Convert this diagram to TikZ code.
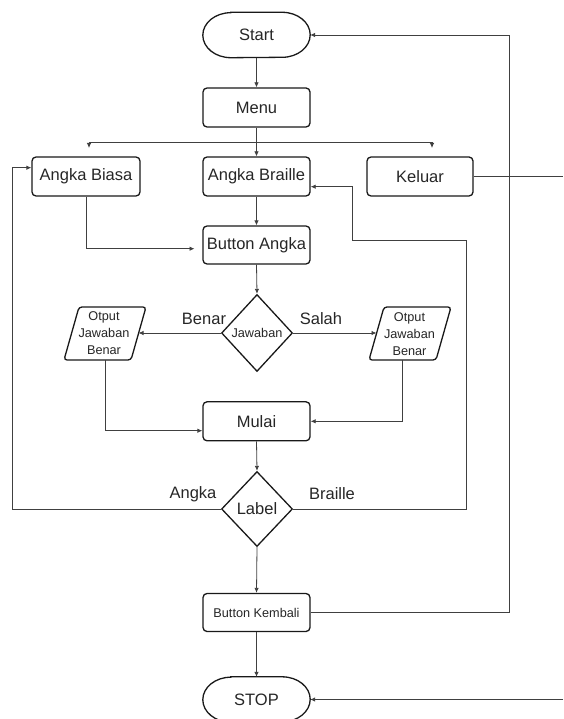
\documentclass[tikz,border=0pt]{standalone}
\usepackage{fontspec}
\setmainfont{Liberation Sans}
\usetikzlibrary{arrows.meta,calc,shapes.geometric}
\begin{document}
\begin{tikzpicture}[x=1pt,y=-1pt,
  border/.style={draw=black!90,line width=1.3pt},
  bigtxt/.style={font=\fontsize{16.5}{19}\selectfont,text=black!85},
  smalltxt/.style={font=\fontsize{12.7}{16.7}\selectfont,text=black!85},
  procbox/.style={border,rounded corners=4pt,minimum width=107pt,minimum height=39pt,inner sep=0pt,bigtxt},
  termbox/.style={minimum width=107pt,minimum height=45pt,inner sep=0pt,bigtxt},
  decbox/.style={border,diamond,shape aspect=0.92,inner sep=0pt,minimum width=71pt},
  conn/.style={draw=black!75,line width=0.8pt,-{Latex[length=5pt,width=4.5pt]}},
  plain/.style={draw=black!75,line width=0.8pt}
]
\useasboundingbox (0,0) rectangle (563,719);

% nodes
\node[termbox] (start) at (256.5,35) {Start};
\draw[border] ($(start.north west)+(28,0)$) -- ($(start.north east)+(-28,0)$)
  arc[start angle=90,end angle=-90,x radius=28pt,y radius=22.5pt]
  -- ($(start.south west)+(28,0)$)
  arc[start angle=270,end angle=90,x radius=28pt,y radius=22.5pt] -- cycle;

\node[procbox] (menu) at (256.5,107.5) {Menu};
\node[procbox,minimum width=108pt] (biasa) at (86,176.5) {Angka Biasa};
\node[procbox] (braille) at (256.5,176.5) {Angka Braille};
\node[procbox,minimum width=106pt] (keluar) at (420,176.5) {Keluar};
\node[procbox,minimum height=38pt] (bangka) at (256.5,245) {Button Angka};
\node[decbox,minimum height=77pt,smalltxt] (jaw) at (257,333) {Jawaban};

\node[smalltxt,align=center] (outL) at (104,333) {Otput\\Jawaban\\Benar};
\draw[border,rounded corners=3pt] (79,307) -- (146,307) -- (131,360) -- (64,360) -- cycle;
\node[smalltxt,align=center] (outR) at (409.5,334) {Otput\\Jawaban\\Benar};
\draw[border,rounded corners=3pt] (384,307) -- (451,307) -- (436,360) -- (369,360) -- cycle;

\node[procbox] (mulai) at (256.5,421.3) {Mulai};
\node[decbox,minimum height=75pt,bigtxt] (label) at (257,509) {Label};
\node[procbox,minimum height=38pt,smalltxt] (kembali) at (256.5,612.5) {Button Kembali};

\node[termbox] (stop) at (256.5,699.5) {STOP};
\draw[border] ($(stop.north west)+(28,0)$) -- ($(stop.north east)+(-28,0)$)
  arc[start angle=90,end angle=-90,x radius=28pt,y radius=22.5pt]
  -- ($(stop.south west)+(28,0)$)
  arc[start angle=270,end angle=90,x radius=28pt,y radius=22.5pt] -- cycle;

% labels
\node[bigtxt] (tbenar) at (204,319) {Benar};
\node[bigtxt] (tsalah) at (321,319) {Salah};
\node[bigtxt] (tangka) at (193,494) {Angka};
\node[bigtxt] (tbraille) at (332,494) {Braille};

% helper coordinates
\coordinate (split) at (256.5,142.3);
\coordinate (bl) at (89,148);
\coordinate (kr) at (432,148);
\coordinate (ba) at (194.5,248.7);
\coordinate (outLe) at (138.5,333);
\coordinate (outLb) at (105,360);
\coordinate (outRw) at (376.5,333);
\coordinate (outRb) at (402.7,360);
\coordinate (kx) at (563,176.5);
\coordinate (sx) at (563,699.5);

% connectors
\draw[conn] (start.south) -- (menu.north);
\draw[conn] (menu.south) -- (braille.north);
\draw[conn,{Latex[length=5pt,width=4.5pt]}-{Latex[length=5pt,width=4.5pt]}] (bl) |- (split) -| (kr);
\draw[conn] (biasa.south) |- (ba);
\draw[conn] (braille.south) -- (bangka.north);
\draw[conn] (bangka.south) -- (jaw.north);
\draw[conn] (jaw.west) -- (outLe);
\draw[conn] (jaw.east) -- (outRw);
\draw[conn] (outLb) |- ($(mulai.west)+(0,9.4)$);
\draw[conn] (outRb) |- (mulai.east);
\draw[conn] (mulai.south) -- (label.north);
\draw[conn] (label.west) -| (12.3,167.7) -- ($(biasa.west)+(0,-8.8)$);
\draw[conn] (label.east) -| (466.7,240.7) -| (352.3,186.7) -- ($(braille.east)+(0,10.2)$);
\draw[conn] (label.south) -- (kembali.north);
\draw[conn] (kembali.east) -| (509,35) -- (start.east);
\draw[conn] (kembali.south) -- (stop.north);
\draw[plain] (keluar.east) -- (kx);
\draw[conn] (sx) -- (stop.east);
\end{tikzpicture}
\end{document}
